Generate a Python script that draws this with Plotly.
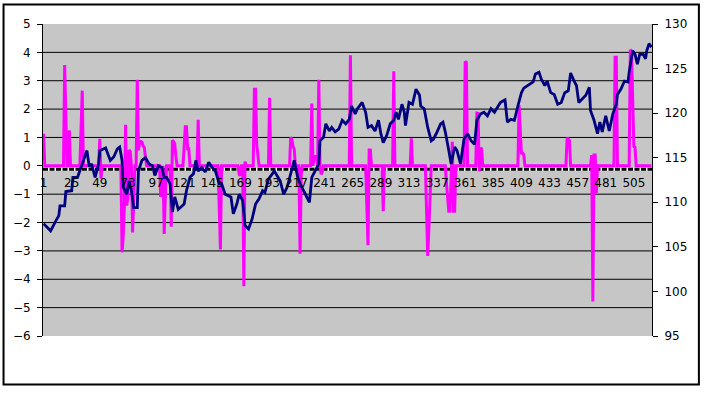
import plotly.graph_objects as go

# ---------------- data ----------------
N_POINTS = 520
CATEGORY_TICKS = [1, 25, 49, 73, 97, 121, 145, 169, 193, 217, 241, 265, 289, 313,
                  337, 361, 385, 409, 433, 457, 481, 505]

# magenta series (left axis): zero everywhere except these categories
MAG_IDX = [1, 19, 20, 23, 33, 34, 49, 50,
           68, 69, 70, 71, 72, 73, 74, 75, 77, 78, 81, 82, 83, 84, 85, 86, 87, 88,
           101, 102, 104, 105, 110, 111, 112, 113, 114,
           121, 122, 123, 124, 125, 133, 151, 152,
           168, 169, 172, 173, 181, 182, 183, 184, 194,
           212, 213, 214, 215, 220, 221, 230, 232, 233, 234, 236, 238, 239,
           263, 277, 278, 279, 280, 291, 300, 315,
           328, 329, 330, 331, 345, 346, 347, 348, 350, 351, 352,
           361, 362, 371, 372, 373, 374, 375,
           407, 408, 409, 410, 411, 448, 449, 450,
           469, 470, 471, 472, 473, 489, 490, 502, 503, 504, 505, 506]
MAG_VAL = [1.13, 3.55, 1.75, 1.25, 1.3, 2.65, 0.95, -0.45,
           -3.05, -2.5, -1.4, 1.45, -1.4, -1.1, 0.56, 0.5, -2.35, -1.2, 3.03, 0.55, 0.8, 0.86, 0.84, 0.7, 0.65, 0.3,
           -1.1, -0.9, -2.4, -1.0, -2.15, 0.9, 0.85, 0.78, 0.3,
           0.65, 1.38, 1.38, 0.6, 0.6, 1.62, -1.5, -2.95,
           -0.3, -0.35, -4.25, 0.15, 2.7, 2.7, 0.74, 0.3, 2.4,
           1.0, 0.95, 0.68, 0.6, -3.1, -0.3, 2.2, 0.33, 0.33, 0.33, 3.03, -0.3, -0.2,
           3.9, -1.4, -2.8, 0.56, 0.56, -1.6, 3.33, 0.97,
           -1.6, -3.18, -2.2, -1.1, -0.6, -1.3, -1.6, -1.6, 0.85, -1.6, -1.6,
           3.68, 3.65, 1.86, 1.85, -0.2, 0.62, 0.6,
           2.13, 1.07, 0.45, 0.45, 0.4, 0.95, 0.95, 0.9,
           0.38, -4.78, 0.38, 0.38, -0.96, 3.83, 3.83, 4.09, 4.05, 2.35, 0.68, 0.65]

# dark blue series (right axis)
BLUE_IDX = [1, 4, 7, 11, 14, 15, 19, 20, 25, 26, 30, 34, 36, 38, 40, 42, 45, 48, 49,
            54, 58, 61, 64, 66, 68, 69, 72, 74, 76, 78, 81, 82, 85, 88, 91, 94, 96, 99,
            102, 104, 106, 109, 111, 113, 116, 121, 123, 126, 129, 131, 133, 136, 139,
            142, 145, 148, 151, 153, 156, 161, 163, 166, 168, 171, 173, 176, 179, 182,
            185, 188, 190, 193, 198, 200, 203, 206, 209, 212, 215, 218, 220, 223, 226,
            228, 230, 233, 236, 237, 240, 242, 245, 247, 250, 253, 256, 259, 262, 264,
            267, 269, 273, 276, 278, 281, 284, 287, 289, 291, 294, 297, 300, 302, 304,
            307, 309, 310, 313, 316, 319, 322, 323, 326, 329, 332, 334, 337, 340, 342,
            344, 347, 349, 352, 354, 357, 360, 363, 366, 369, 371, 374, 377, 380, 383,
            386, 389, 391, 395, 397, 400, 403, 406, 409, 411, 416, 419, 421, 424, 426,
            429, 431, 434, 437, 440, 443, 446, 449, 451, 454, 456, 458, 461, 464, 467,
            468, 471, 474, 476, 478, 481, 484, 487, 490, 491, 494, 497, 500, 501, 504,
            506, 508, 510, 513, 515, 516, 518, 520]
BLUE_VAL = [107.6, 107.2, 106.8, 107.8, 108.5, 109.6, 109.6, 111.2, 111.3, 112.8, 112.8, 114.3, 115.0, 115.8, 114.0, 114.3, 112.8, 114.3, 115.8,
            116.1, 114.7, 115.1, 116.0, 116.2, 114.7, 111.7, 110.9, 112.4, 111.3, 109.4, 109.4, 113.5, 114.7, 115.0, 114.3, 114.1, 113.0, 114.1,
            113.9, 112.8, 112.8, 112.1, 108.9, 110.6, 109.2, 109.8, 111.3, 112.8, 113.2, 114.7, 113.5, 113.9, 113.4,
            114.5, 113.9, 113.4, 112.1, 112.1, 110.9, 110.6, 108.7, 109.8, 110.9, 110.2, 107.4, 107.0, 108.1, 109.8,
            110.4, 111.3, 111.1, 112.6, 113.5, 113.0, 112.4, 110.9, 111.7, 113.2, 114.7, 112.8, 112.1, 111.3, 110.6,
            110.0, 112.8, 113.5, 114.3, 116.9, 117.3, 118.8, 118.0, 118.4, 117.9, 118.2, 119.2, 118.8, 119.3, 120.8,
            119.9, 120.5, 121.2, 120.1, 118.4, 118.6, 118.0, 119.2, 117.7, 116.7, 117.5, 118.8, 119.2, 120.1, 119.3,
            121.0, 120.1, 118.6, 121.2, 121.0, 122.7, 122.0, 120.8, 120.5, 118.4, 116.9, 117.1, 117.9, 118.8, 119.0,
            117.9, 115.8, 114.3, 116.2, 115.8, 114.3, 117.1, 117.7, 116.9, 116.5, 119.2, 119.9, 120.1, 119.7, 120.5,
            120.1, 120.8, 121.2, 121.5, 119.0, 119.3, 119.2, 120.8, 122.3, 122.8, 123.3, 123.5, 124.4, 124.6, 123.8,
            123.1, 123.6, 122.3, 122.1, 121.0, 121.2, 122.3, 122.5, 124.5, 123.6, 123.1, 121.2, 121.6, 122.0, 122.9,
            120.3, 119.2, 117.7, 119.0, 117.9, 119.7, 118.0, 119.9, 121.0, 122.1, 122.7, 123.6, 123.5, 124.6, 127.0,
            126.6, 125.5, 126.6, 126.6, 126.1, 127.0, 127.8, 127.4]

LEFT_TICKS = list(range(-6, 6))
RIGHT_TICKS = list(range(95, 131, 5))
AXIS_CROSS = -0.12

# ---------------- build ----------------
cats = list(range(1, N_POINTS + 1))
mag = [0.0] * N_POINTS
for i, v in zip(MAG_IDX, MAG_VAL):
    mag[i - 1] = v

FONT = dict(family="DejaVu Sans", size=12, color="black")

fig = go.Figure()
fig.add_trace(go.Scatter(x=cats, y=mag, mode="lines", yaxis="y",
                         line=dict(color="#ff00ff", width=3), showlegend=False,
                         hoverinfo="skip"))
fig.add_trace(go.Scatter(x=BLUE_IDX, y=BLUE_VAL, mode="lines", yaxis="y2",
                         line=dict(color="#000080", width=2.8), showlegend=False,
                         hoverinfo="skip"))

shapes = []
for g in LEFT_TICKS[1:-1]:
    if g == 0:
        continue
    shapes.append(dict(type="line", xref="paper", yref="y", x0=0, x1=1, y0=g, y1=g,
                       line=dict(color="black", width=1), layer="below"))
# category axis line (dashed look)
shapes.append(dict(type="line", xref="paper", yref="y", x0=0, x1=1, y0=AXIS_CROSS, y1=AXIS_CROSS,
                   line=dict(color="white", width=3), layer="below"))
shapes.append(dict(type="line", xref="paper", yref="y", x0=0, x1=1, y0=AXIS_CROSS, y1=AXIS_CROSS,
                   line=dict(color="black", width=3, dash="5px,1.5px"), layer="below"))
# outer chart border
shapes.append(dict(type="rect", xref="paper", yref="paper",
                   x0=-0.0648, x1=1.077, y0=-0.1554, y1=1.0625,
                   line=dict(color="black", width=2), fillcolor="rgba(0,0,0,0)", layer="above"))

pos = (5 - AXIS_CROSS) / 11.0

fig.update_layout(
    width=706, height=400,
    margin=dict(l=43, r=54, t=24, b=64),
    paper_bgcolor="white", plot_bgcolor="#c6c6c6",
    showlegend=False,
    shapes=shapes,
    font=FONT,
    xaxis=dict(range=[0.5, N_POINTS + 0.5], anchor="free", position=1 - pos,
               tickvals=CATEGORY_TICKS, ticktext=[str(t) for t in CATEGORY_TICKS],
               showgrid=False, zeroline=False, showline=False, ticks="",
               ticklabelstandoff=5, tickfont=FONT),
    yaxis=dict(range=[-6, 5], tickvals=LEFT_TICKS, showgrid=False, zeroline=False,
               showline=True, linecolor="black", linewidth=1, ticks="outside",
               ticklen=5, tickcolor="black", tickfont=FONT, ticklabelstandoff=4),
    yaxis2=dict(range=[95, 130], tickvals=RIGHT_TICKS, overlaying="y", side="right",
                showgrid=False, zeroline=False, showline=True, linecolor="black",
                linewidth=1, ticks="outside", ticklen=5, tickcolor="black",
                tickfont=FONT, ticklabelstandoff=4),
)

fig.write_html("out.html", config={"displayModeBar": False},
               post_script="document.body.style.margin='0';")
